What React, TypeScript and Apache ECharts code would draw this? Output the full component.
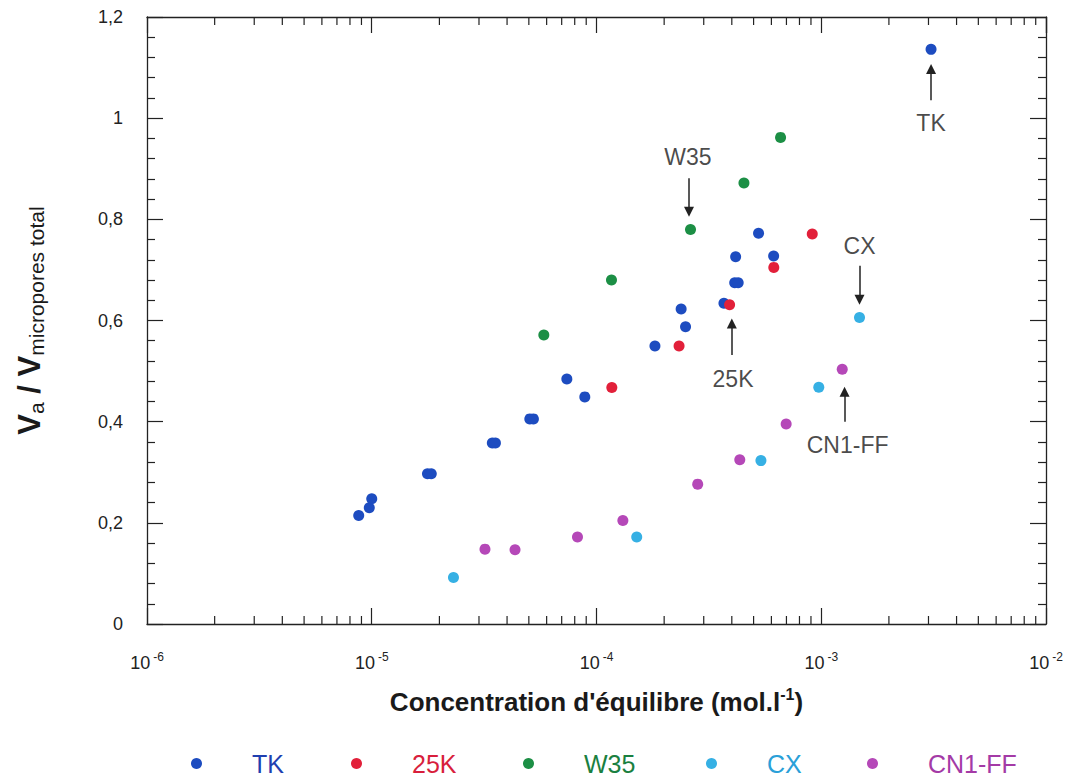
import React, { useEffect, useRef } from "react";
import * as echarts from "echarts";

const FONT = "'Liberation Sans', Arial, sans-serif";

// ---- data (concentration mol/l, Va / V micropores total) ----
const tkConc = [8.75e-6, 9.75e-6, 1.0e-5, 1.77e-5, 1.84e-5, 3.44e-5, 3.55e-5, 5.05e-5, 5.24e-5, 7.38e-5, 8.87e-5, 1.82e-4, 2.38e-4, 2.49e-4, 3.69e-4, 4.12e-4, 4.27e-4, 4.16e-4, 6.14e-4, 5.26e-4, 3.08e-3];
const tkRatio = [0.2145, 0.2297, 0.2475, 0.297, 0.297, 0.358, 0.358, 0.4055, 0.4055, 0.4845, 0.449, 0.5497, 0.6228, 0.5878, 0.634, 0.6747, 0.6747, 0.726, 0.7274, 0.7723, 1.136];

const k25Conc = [1.17e-4, 2.33e-4, 3.91e-4, 6.15e-4, 9.12e-4];
const k25Ratio = [0.4677, 0.5497, 0.631, 0.705, 0.771];

const w35Conc = [5.83e-5, 1.166e-4, 2.62e-4, 4.53e-4, 6.59e-4];
const w35Ratio = [0.5714, 0.68, 0.78, 0.872, 0.962];

const cxConc = [2.31e-5, 1.51e-4, 5.39e-4, 9.75e-4, 1.48e-3];
const cxRatio = [0.092, 0.172, 0.323, 0.468, 0.606];

const cnConc = [3.19e-5, 4.34e-5, 8.23e-5, 1.31e-4, 2.82e-4, 4.34e-4, 6.98e-4, 1.24e-3];
const cnRatio = [0.148, 0.1468, 0.172, 0.2046, 0.2765, 0.3245, 0.3956, 0.5036];

const seriesNames = ["TK", "25K", "W35", "CX", "CN1-FF"];
const seriesColors = ["#1d4cc0", "#e2203a", "#1c8f45", "#36b0e4", "#b548b8"];
const legendTextColors = ["#1f3fb0", "#d81e3c", "#1a8040", "#2aa0d8", "#a43aa6"];

// annotation arrows: [x, tailY, tipY]
const arrowX = [3.08e-3, 2.58e-4, 1.48e-3, 4.0e-4, 1.27e-3];
const arrowTail = [1.0356, 0.881, 0.708, 0.532, 0.4];
const arrowTip = [1.097, 0.815, 0.641, 0.594, 0.459];
// annotation labels
const noteText = ["TK", "W35", "CX", "25K", "CN1-FF"];
const noteX = [3.08e-3, 2.55e-4, 1.48e-3, 4.05e-4, 1.31e-3];
const noteY = [0.9895, 0.9236, 0.748, 0.484, 0.354];
// which series each arrow belongs to
const arrowSeries = [0, 2, 3, 1, 4];

// axis
const xMin = 1e-6;
const xMax = 1e-2;
const yMin = 0;
const yMax = 1.2;
const yStep = 0.2;
const yTickLabels = ["0", "0,2", "0,4", "0,6", "0,8", "1", "1,2"];

// legend layout (left edge of each legend item, px)
const legendLeft = [186, 346, 518, 701, 862];

// log minor tick values (2..9 per decade)
const minorTicks: number[] = [];
for (let e = -6; e < -2; e++) {
  for (let k = 2; k <= 9; k++) minorTicks.push(k * Math.pow(10, e));
}

const concs = [tkConc, k25Conc, w35Conc, cxConc, cnConc];
const ratios = [tkRatio, k25Ratio, w35Ratio, cxRatio, cnRatio];

function buildOption() {
  const scatterSeries = seriesNames.map((name, i) => {
    const lines = arrowSeries
      .map((s, j) => (s === i ? j : -1))
      .filter((j) => j >= 0)
      .map((j) => [
        { coord: [arrowX[j], arrowTail[j]], symbol: "none" },
        { coord: [arrowX[j], arrowTip[j]], symbol: "triangle", symbolSize: 10 },
      ]);
    return {
      name,
      type: "scatter",
      xAxisIndex: 0,
      yAxisIndex: 0,
      symbol: "circle",
      symbolSize: 11,
      itemStyle: { color: seriesColors[i], opacity: 1 },
      data: concs[i].map((c, k) => [c, ratios[i][k]]),
      z: 5,
      markLine: lines.length
        ? {
            silent: true,
            animation: false,
            symbol: ["none", "triangle"],
            symbolSize: 10,
            label: { show: false },
            lineStyle: { color: "#222", width: 1.5, type: "solid" },
            emphasis: { disabled: true },
            data: lines,
          }
        : undefined,
    };
  });

  const noteSeries = {
    name: "notes",
    type: "scatter",
    symbol: "circle",
    symbolSize: 1,
    silent: true,
    itemStyle: { color: "rgba(0,0,0,0)" },
    label: {
      show: true,
      position: "inside",
      formatter: (p: any) => p.data[2],
      color: "#1a1a1a",
      fontSize: 23,
      fontFamily: FONT,
    },
    data: noteText.map((t, i) => [noteX[i], noteY[i], t]),
    z: 6,
  };

  const minorTickSeries = {
    name: "minorTicks",
    type: "custom",
    silent: true,
    xAxisIndex: 0,
    yAxisIndex: 0,
    clip: false,
    encode: { x: 0, y: 1 },
    data: minorTicks.map((v) => [v, yMin]),
    renderItem: (params: any, api: any) => {
      const x = api.value(0);
      const pb = api.coord([x, yMin]);
      const pt = api.coord([x, yMax]);
      return {
        type: "group",
        children: [
          { type: "line", shape: { x1: pb[0], y1: pb[1], x2: pb[0], y2: pb[1] - 8 }, style: { stroke: "#222", lineWidth: 1.2 } },
          { type: "line", shape: { x1: pt[0], y1: pt[1], x2: pt[0], y2: pt[1] + 8 }, style: { stroke: "#222", lineWidth: 1.2 } },
        ],
      };
    },
    z: 3,
  };

  const legends = seriesNames.map((n, i) => ({
    data: [{ name: n }],
    left: legendLeft[i],
    top: 746,
    icon: "circle",
    itemWidth: 11,
    itemHeight: 11,
    selectedMode: false,
    formatter: (name: string) => `{g|}{n|${name}}`,
    textStyle: {
      fontSize: 25,
      fontFamily: FONT,
      color: legendTextColors[i],
      rich: {
        g: { width: 45 },
        n: { fontSize: 25, color: legendTextColors[i], fontFamily: FONT },
      },
    },
  }));

  const axisLine = { show: true, onZero: false, lineStyle: { color: "#222", width: 1.3 } };
  const tickStyle = { color: "#222", width: 1.2 };

  return {
    animation: false,
    backgroundColor: "#ffffff",
    textStyle: { fontFamily: FONT },
    grid: { left: 147, right: 28, top: 17, bottom: 153 },
    legend: legends,
    xAxis: [
      {
        type: "log",
        logBase: 10,
        min: xMin,
        max: xMax,
        position: "bottom",
        axisLine,
        axisTick: { show: true, inside: true, length: 16, lineStyle: tickStyle },
        splitLine: { show: false },
        axisLabel: {
          margin: 27,
          formatter: (v: number) => `{b|10}{s|${Math.round(Math.log10(v))}}`,
          rich: {
            b: { fontSize: 18, lineHeight: 24, color: "#222", fontFamily: FONT },
            s: { fontSize: 12, lineHeight: 12, verticalAlign: "top", color: "#222", padding: [0, 0, 0, 3], fontFamily: FONT },
          },
        },
        name: "{t|Concentration d'équilibre (mol.l}{s|-1}{t|)}",
        nameLocation: "middle",
        nameGap: 62,
        nameTextStyle: {
          rich: {
            t: { fontSize: 26, fontWeight: "bold", lineHeight: 32, color: "#1a1a1a", fontFamily: FONT },
            s: { fontSize: 16, fontWeight: "bold", lineHeight: 16, verticalAlign: "top", color: "#1a1a1a", fontFamily: FONT },
          },
        },
      },
      {
        type: "log",
        logBase: 10,
        min: xMin,
        max: xMax,
        position: "top",
        axisLine,
        axisTick: { show: true, inside: true, length: 16, lineStyle: tickStyle },
        axisLabel: { show: false },
        splitLine: { show: false },
      },
    ],
    yAxis: [
      {
        type: "value",
        min: yMin,
        max: yMax,
        interval: yStep,
        position: "left",
        axisLine,
        axisTick: { show: true, inside: true, length: 16, lineStyle: tickStyle },
        minorTick: { show: true, splitNumber: 5, length: 8, lineStyle: tickStyle },
        splitLine: { show: false },
        axisLabel: {
          margin: 24,
          fontSize: 18,
          color: "#222",
          fontFamily: FONT,
          formatter: (v: number) => yTickLabels[Math.round((v - yMin) / yStep)] ?? "",
        },
        name: "{v|V}{s|a}{v| / V}{s|micropores total}",
        nameLocation: "middle",
        nameGap: 100,
        nameTextStyle: {
          rich: {
            v: { fontSize: 31, fontWeight: "bold", lineHeight: 36, color: "#1a1a1a", fontFamily: FONT },
            s: { fontSize: 21, lineHeight: 18, verticalAlign: "bottom", color: "#1a1a1a", fontFamily: FONT },
          },
        },
      },
      {
        type: "value",
        min: yMin,
        max: yMax,
        interval: yStep,
        position: "right",
        axisLine,
        axisTick: { show: true, inside: true, length: 16, lineStyle: tickStyle },
        minorTick: { show: true, splitNumber: 5, length: 8, lineStyle: tickStyle },
        splitLine: { show: false },
        axisLabel: { show: false },
      },
    ],
    series: [minorTickSeries, ...scatterSeries, noteSeries],
  };
}

export default function App() {
  const ref = useRef<HTMLDivElement>(null);
  useEffect(() => {
    if (!ref.current) return;
    const chart = echarts.init(ref.current, null, { renderer: "svg" });
    chart.setOption(buildOption() as any);
    return () => chart.dispose();
  }, []);
  return (
    <div
      ref={ref}
      style={{ position: "absolute", left: 0, top: 0, width: 1074, height: 777, background: "#fff" }}
    />
  );
}
